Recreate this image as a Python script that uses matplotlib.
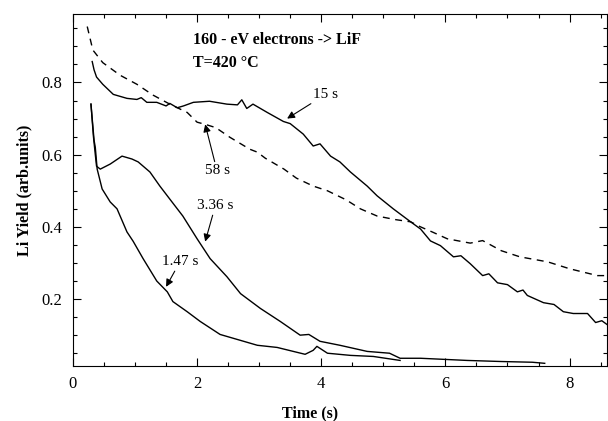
"""Li yield vs time for 160 eV electrons on LiF at 420 C, several irradiation times."""
import numpy as np
import matplotlib

matplotlib.use("Agg")
import matplotlib.pyplot as plt  # noqa: E402
from matplotlib.ticker import MultipleLocator  # noqa: E402

plt.rcParams["font.family"] = ["Liberation Serif", "DejaVu Serif"]

# 15 s (solid)
t_15 = [0.31, 0.34, 0.38, 0.48, 0.65, 0.87, 1.03, 1.10, 1.19, 1.35, 1.50, 1.56, 1.68,
        1.78, 1.94, 2.20, 2.48, 2.65, 2.72, 2.80, 2.90, 3.13, 3.39, 3.50, 3.71, 3.87,
        3.98, 4.15, 4.30, 4.47, 4.74, 4.90, 5.16, 5.44, 5.60, 5.76, 5.92, 6.13, 6.25,
        6.40, 6.60, 6.70, 6.84, 7.00, 7.16, 7.25, 7.32, 7.58, 7.75, 7.90, 8.06, 8.29,
        8.42, 8.52, 8.60]
y_15 = [0.858, 0.835, 0.815, 0.795, 0.767, 0.756, 0.753, 0.758, 0.745, 0.745, 0.735,
        0.742, 0.730, 0.735, 0.745, 0.748, 0.740, 0.738, 0.752, 0.728, 0.740, 0.717,
        0.692, 0.686, 0.657, 0.624, 0.630, 0.596, 0.580, 0.552, 0.513, 0.486, 0.450,
        0.414, 0.394, 0.361, 0.348, 0.317, 0.320, 0.298, 0.265, 0.270, 0.245, 0.240,
        0.220, 0.225, 0.210, 0.190, 0.185, 0.165, 0.160, 0.160, 0.135, 0.140, 0.130]

# 58 s (dashed)
t_58 = [0.23, 0.32, 0.48, 0.76, 1.03, 1.29, 1.56, 1.84, 2.00, 2.13, 2.30, 2.53, 2.85,
        2.97, 3.10, 3.40, 3.60, 3.87, 4.10, 4.40, 4.63, 4.90, 5.20, 5.44, 5.60, 5.80,
        6.03, 6.40, 6.60, 6.90, 7.20, 7.65, 8.00, 8.45, 8.60]
y_58 = [0.955, 0.890, 0.855, 0.820, 0.795, 0.765, 0.740, 0.717, 0.690, 0.684, 0.675,
        0.648, 0.615, 0.607, 0.590, 0.560, 0.535, 0.513, 0.500, 0.475, 0.450, 0.430,
        0.420, 0.414, 0.400, 0.385, 0.367, 0.355, 0.362, 0.334, 0.317, 0.303, 0.284,
        0.265, 0.265]

# 3.36 s (solid)
t_336 = [0.29, 0.33, 0.36, 0.38, 0.44, 0.60, 0.79, 0.95, 1.05, 1.24, 1.40, 1.56, 1.77,
         2.00, 2.21, 2.48, 2.70, 3.02, 3.34, 3.66, 3.80, 3.98, 4.30, 4.74, 5.10, 5.27,
         5.60, 6.35, 6.90, 7.40, 7.60]
y_336 = [0.740, 0.650, 0.600, 0.568, 0.560, 0.574, 0.596, 0.588, 0.580, 0.552, 0.513,
         0.477, 0.430, 0.367, 0.312, 0.262, 0.215, 0.174, 0.138, 0.100, 0.102, 0.083,
         0.072, 0.055, 0.050, 0.036, 0.036, 0.030, 0.027, 0.025, 0.022]

# 1.47 s (solid)
t_147 = [0.29, 0.34, 0.36, 0.39, 0.47, 0.60, 0.71, 0.87, 0.97, 1.13, 1.35, 1.52, 1.61,
         1.84, 2.05, 2.37, 2.69, 2.97, 3.29, 3.55, 3.74, 3.87, 3.93, 4.10, 4.47, 4.84,
         5.27]
y_147 = [0.740, 0.640, 0.620, 0.560, 0.505, 0.469, 0.450, 0.386, 0.360, 0.312, 0.250,
         0.220, 0.193, 0.165, 0.138, 0.102, 0.086, 0.072, 0.066, 0.055, 0.047, 0.058,
         0.069, 0.050, 0.044, 0.041, 0.030]

fig = plt.figure(figsize=(6.08, 4.21), dpi=100)
ax = fig.add_axes([0.120, 0.131, 0.878, 0.836])

ax.plot(t_15, y_15, color="black", lw=1.0)
ax.plot(t_58, y_58, color="black", lw=1.0, ls=(0, (5, 4)))
ax.plot(t_336, y_336, color="black", lw=1.0)
ax.plot(t_147, y_147, color="black", lw=1.0)

arrow = dict(arrowstyle="-|>", color="black", lw=0.8, mutation_scale=11,
             shrinkA=0, shrinkB=0)
ax.annotate("15 s", xy=(3.45, 0.700), xytext=(3.87, 0.767), fontsize=11,
            va="center", ha="left", arrowprops=arrow)
ax.annotate("58 s", xy=(2.13, 0.684), xytext=(2.12, 0.555), fontsize=11,
            va="center", ha="left", arrowprops=arrow)
ax.annotate("3.36 s", xy=(2.13, 0.359), xytext=(2.0, 0.458), fontsize=11,
            va="center", ha="left", arrowprops=arrow)
ax.annotate("1.47 s", xy=(1.50, 0.234), xytext=(1.43, 0.303), fontsize=11,
            va="center", ha="left", arrowprops=arrow)

ax.text(1.94, 0.918, "160 - eV electrons -> LiF", fontsize=11.5, fontweight="bold",
        va="center")
ax.text(1.94, 0.855, "T=420 \u00b0C", fontsize=11.5, fontweight="bold", va="center")

ax.set_xlim(0, 8.6)
ax.set_ylim(0.015, 0.99)
ax.xaxis.set_major_locator(MultipleLocator(2))
ax.xaxis.set_minor_locator(MultipleLocator(0.5))
ax.yaxis.set_major_locator(MultipleLocator(0.2))
ax.yaxis.set_minor_locator(MultipleLocator(0.05))
ax.tick_params(which="both", direction="in", top=True, right=True, labelsize=12)
ax.tick_params(which="major", length=6, width=0.8)
ax.tick_params(which="minor", length=3, width=0.8)
ax.tick_params(axis="y", pad=8)
ax.tick_params(axis="x", pad=7)
ax.set_xticks([0, 2, 4, 6, 8])
ax.set_yticks([0.2, 0.4, 0.6, 0.8])
ax.set_yticklabels(["0.2", "0.4", "0.6", "0.8"])

ax.set_xlabel("Time (s)", fontsize=11.5, fontweight="bold")
ax.xaxis.set_label_coords(0.444, -0.112)
ax.set_ylabel("Li Yield (arb.units)", fontsize=11.5, fontweight="bold", labelpad=6)

fig.savefig("out.png", dpi=100)
